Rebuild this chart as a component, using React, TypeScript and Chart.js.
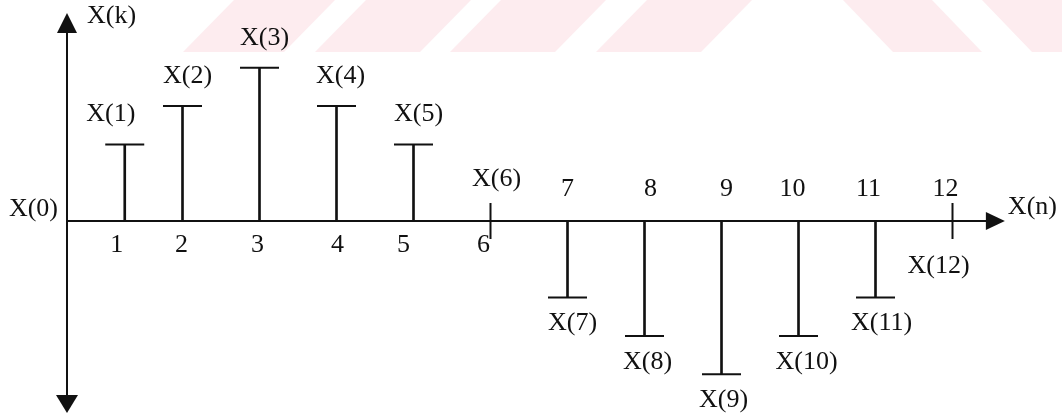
import React, { useEffect, useRef } from "react";
import { Chart, registerables } from "chart.js";

Chart.register(...registerables);

// ---- data ----
const sampleIndex = [1, 2, 3, 4, 5, 6, 7, 8, 9, 10, 11, 12];
const sampleValues = [2, 3, 4, 3, 2, 0, -2, -3, -4, -3, -2, 0];
const stemPositions = [0.75, 1.5, 2.5, 3.5, 4.5, 5.5, 6.5, 7.5, 8.5, 9.5, 10.5, 11.5];
const pointLabels = ["X(1)", "X(2)", "X(3)", "X(4)", "X(5)", "X(6)", "X(7)", "X(8)", "X(9)", "X(10)", "X(11)", "X(12)"];
const tickLabels = ["1", "2", "3", "4", "5", "6", "7", "8", "9", "10", "11", "12"];
const numberAbove = [false, false, false, false, false, false, true, true, true, true, true, true];
const originLabel = "X(0)";
const verticalAxisLabel = "X(k)";
const horizontalAxisLabel = "X(n)";

// ---- layout / style ----
const X_MIN = -0.8701;
const X_MAX = 12.922;
const Y_MIN = -5.117;
const Y_MAX = 5.77;
const X_AXIS_END = 12.18;
const Y_AXIS_TOP = 5.43;
const Y_AXIS_BOTTOM = -5.01;
const labelShift = [-14, 5, 5, 4, 5, 6, 5, 3, 2, 8, 6, -14];
const numberShift = [-8, -1, -2, 1, -10, -7, 0, 6, 5, -6, -7, -7];
const INK = "#111111";
const FONT = "26px 'Liberation Serif', 'Times New Roman', serif";
const PINK = "#fdecef";
const slashStripes = [[234, 335], [366, 471], [501, 606], [647, 752]];
const backStripes = [[843, 932], [982, 1100]];
const BAND_H = 52;

const diagramPlugin = {
  id: "diagram",
  beforeDraw(chart: any) {
    const ctx = chart.ctx;
    ctx.save();
    ctx.fillStyle = "#ffffff";
    ctx.fillRect(0, 0, chart.width, chart.height);
    ctx.fillStyle = PINK;
    for (const [a, b] of slashStripes) {
      ctx.beginPath();
      ctx.moveTo(a, 0);
      ctx.lineTo(b, 0);
      ctx.lineTo(b - 51, BAND_H);
      ctx.lineTo(a - 51, BAND_H);
      ctx.closePath();
      ctx.fill();
    }
    for (const [a, b] of backStripes) {
      ctx.beginPath();
      ctx.moveTo(a, 0);
      ctx.lineTo(b, 0);
      ctx.lineTo(b + 50, BAND_H);
      ctx.lineTo(a + 50, BAND_H);
      ctx.closePath();
      ctx.fill();
    }
    ctx.restore();
  },
  beforeDatasetsDraw(chart: any) {
    const ctx = chart.ctx;
    const xs = chart.scales.x;
    const ys = chart.scales.y;
    const x0 = xs.getPixelForValue(0);
    const y0 = ys.getPixelForValue(0);
    const xEnd = xs.getPixelForValue(X_AXIS_END);
    const yTop = ys.getPixelForValue(Y_AXIS_TOP);
    const yBot = ys.getPixelForValue(Y_AXIS_BOTTOM);
    ctx.save();
    ctx.strokeStyle = INK;
    ctx.fillStyle = INK;
    ctx.lineWidth = 2;
    // horizontal axis
    ctx.beginPath();
    ctx.moveTo(x0, y0);
    ctx.lineTo(xEnd - 10, y0);
    ctx.stroke();
    ctx.beginPath();
    ctx.moveTo(xEnd, y0);
    ctx.lineTo(xEnd - 19, y0 - 9);
    ctx.lineTo(xEnd - 19, y0 + 9);
    ctx.closePath();
    ctx.fill();
    // vertical axis
    ctx.beginPath();
    ctx.moveTo(x0, yTop + 10);
    ctx.lineTo(x0, yBot - 10);
    ctx.stroke();
    ctx.beginPath();
    ctx.moveTo(x0, yTop);
    ctx.lineTo(x0 - 10, yTop + 20);
    ctx.lineTo(x0 + 10, yTop + 20);
    ctx.closePath();
    ctx.fill();
    ctx.beginPath();
    ctx.moveTo(x0, yBot);
    ctx.lineTo(x0 - 11, yBot - 18);
    ctx.lineTo(x0 + 11, yBot - 18);
    ctx.closePath();
    ctx.fill();
    ctx.restore();
  },
  afterDatasetsDraw(chart: any) {
    const ctx = chart.ctx;
    const xs = chart.scales.x;
    const ys = chart.scales.y;
    const x0 = xs.getPixelForValue(0);
    const y0 = ys.getPixelForValue(0);
    const xEnd = xs.getPixelForValue(X_AXIS_END);
    const yTop = ys.getPixelForValue(Y_AXIS_TOP);
    ctx.save();
    ctx.fillStyle = INK;
    ctx.font = FONT;
    ctx.textBaseline = "middle";
    // axis labels
    ctx.textAlign = "left";
    ctx.fillText(verticalAxisLabel, x0 + 20, yTop + 3);
    ctx.fillText(horizontalAxisLabel, xEnd + 3, y0 - 14);
    ctx.textAlign = "right";
    ctx.fillText(originLabel, x0 - 9, y0 - 12);
    ctx.textAlign = "center";
    sampleIndex.forEach((_, i) => {
      const v = sampleValues[i];
      const px = xs.getPixelForValue(stemPositions[i]);
      const py = ys.getPixelForValue(v);
      const above = !numberAbove[i];
      let ly: number;
      if (above) {
        ly = v === 0 ? y0 - 18 - 24 : py - 30;
      } else {
        ly = v === 0 ? y0 + 18 + 27 : py + 26;
      }
      ctx.fillText(pointLabels[i], px + labelShift[i], ly);
      const ny = numberAbove[i] ? y0 - 32 : y0 + 24;
      ctx.fillText(tickLabels[i], px + numberShift[i], ny);
    });
    ctx.restore();
  },
};

export default function App() {
  const canvasRef = useRef<HTMLCanvasElement | null>(null);

  useEffect(() => {
    if (!canvasRef.current) return;
    const points = stemPositions.map((x, i) => ({ x, y: sampleValues[i] }));
    const chart = new Chart(canvasRef.current, {
      type: "bar",
      data: {
        datasets: [
          {
            type: "bar",
            data: points,
            backgroundColor: INK,
            borderWidth: 0,
            barThickness: 2,
          } as any,
          {
            type: "scatter",
            data: points,
            pointStyle: "line",
            pointRadius: (c: any) => (sampleValues[c.dataIndex] === 0 ? 18 : 19.5),
            pointRotation: (c: any) => (sampleValues[c.dataIndex] === 0 ? 90 : 0),
            pointBorderColor: INK,
            pointBackgroundColor: INK,
            pointBorderWidth: 2,
            clip: false,
          } as any,
        ],
      },
      options: {
        animation: false,
        responsive: false,
        events: [],
        layout: { padding: 0, autoPadding: false },
        plugins: {
          legend: { display: false },
          tooltip: { enabled: false },
          title: { display: false },
        },
        scales: {
          x: { type: "linear", min: X_MIN, max: X_MAX, display: false, offset: false },
          y: { type: "linear", min: Y_MIN, max: Y_MAX, display: false },
        },
      } as any,
      plugins: [diagramPlugin],
    });
    return () => chart.destroy();
  }, []);

  return (
    <div style={{ position: "absolute", left: 0, top: 0, width: 1062, height: 417, background: "#fff" }}>
      <canvas ref={canvasRef} width={1062} height={417} style={{ display: "block" }} />
    </div>
  );
}
